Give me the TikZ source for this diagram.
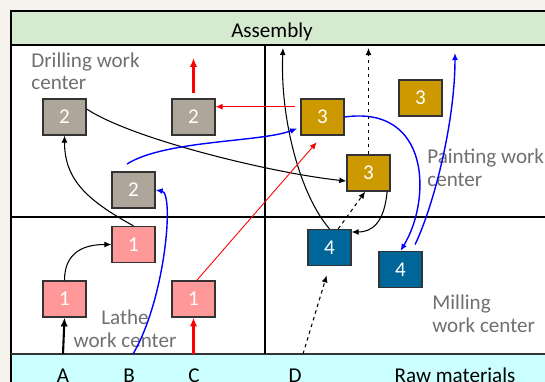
\documentclass[tikz,border=0pt]{standalone}
\usepackage{fontspec}
\setmainfont{Carlito}
\usetikzlibrary{arrows.meta}
\definecolor{bgbeige}{RGB}{246,242,236}
\definecolor{asmgreen}{RGB}{213,234,207}
\definecolor{rawcyan}{RGB}{204,255,255}
\definecolor{drillgray}{RGB}{174,166,155}
\definecolor{lathepink}{RGB}{255,153,153}
\definecolor{paintgold}{RGB}{204,153,0}
\definecolor{millblue}{RGB}{0,102,153}
\definecolor{labelgray}{RGB}{112,112,112}
\begin{document}
\begin{tikzpicture}[x=0.02cm, y=-0.02cm, font=\fontsize{12}{12.8}\selectfont]
  \tikzstyle{block} = [rectangle, draw=black!80, line width=0.7pt, minimum width=0.86cm, minimum height=0.72cm, inner sep=0pt, text=white]
  \tikzstyle{arr} = [-{Latex[length=4pt,width=3.4pt]}, line width=0.6pt]
  \tikzstyle{bigarr} = [-{Latex[length=5pt,width=4.2pt]}, line width=1.2pt]
  \tikzstyle{dasharr} = [arr, dash pattern=on 2pt off 2pt]
  \tikzstyle{flow} = [arr, blue, line width=0.8pt]
  \tikzstyle{note} = [text=labelgray, inner sep=0pt]

  \useasboundingbox (0,0) rectangle (545,382);
  \fill[bgbeige] (0,0) rectangle (545,382);
  \fill[white] (11,11) rectangle (545,382);
  \fill[asmgreen] (11,11) rectangle (545,45);
  \fill[rawcyan] (11,354) rectangle (545,382);

  % frame and work center split
  \draw[line width=1pt] (11,382) -- (11,11) -- (545,11);
  \draw[line width=1pt] (11,45) -- (545,45);
  \draw[line width=0.6pt, black!80] (11,354) -- (545,354);
  \draw[line width=1pt] (265,45) -- (265,354);
  \draw[line width=1pt] (11,217) -- (545,217);

  \node[anchor=base] (asm) at (272,37) {Assembly};
  \node[anchor=base] (A) at (63,382) {A};
  \node[anchor=base] (B) at (129,382) {B};
  \node[anchor=base] (C) at (194,382) {C};
  \node[anchor=base] (D) at (295,382) {D};
  \node[anchor=base] (raw) at (455,382) {Raw materials};

  % base of a two-line note is its last line
  \node[note, anchor=base west, align=left] (drill) at (31,90) {Drilling work\\center};
  \node[note, anchor=base west, align=left] (paint) at (427,186) {Painting work\\center};
  \node[note, anchor=base, align=center] (lathe) at (125,347) {Lathe\\work center};
  \node[note, anchor=base west, align=left] (mill) at (432,332) {Milling\\work center};

  % machines
  \node[block, fill=drillgray] (drillA) at (64.5,117) {2};
  \node[block, fill=drillgray] (drillB) at (193.5,117) {2};
  \node[block, fill=drillgray] (drillC) at (133.5,190) {2};
  \node[block, fill=lathepink] (latheA) at (133.5,244.5) {1};
  \node[block, fill=lathepink] (latheB) at (64.5,299) {1};
  \node[block, fill=lathepink] (latheC) at (193.5,299) {1};
  \node[block, fill=paintgold] (paintA) at (322.5,117) {3};
  \node[block, fill=paintgold] (paintB) at (420.5,98) {3};
  \node[block, fill=paintgold] (paintC) at (368.5,173) {3};
  \node[block, fill=millblue] (millA) at (329.5,247.5) {4};
  \node[block, fill=millblue] (millB) at (400.5,269.5) {4};

  \coordinate (inA) at (63,354);
  \coordinate (inB) at (133,354);
  \coordinate (inC) at (193.5,354);
  \coordinate (inD) at (303,354);
  \coordinate (outA) at (283,48);
  \coordinate (outB) at (455,53);
  \coordinate (outC) at (193.5,58);
  \coordinate (startB) at (127,164);

  % product A
  \draw[bigarr] (inA) -- (latheB.south);
  \draw[arr] (latheB.north) .. controls +(0,-30) and +(-25,0) .. (latheA.west);
  \draw[arr] (latheA.north) .. controls +(-45,-25) and +(0,45) .. (drillA.south);
  \draw[arr] (drillA.20) .. controls +(45,30) and +(-75,-8) .. (paintC.200);
  \draw[arr] (paintC.-45) .. controls +(-3,33) and +(19,0) .. (millA.35);
  \draw[arr] (millA.north) .. controls +(-30,-35) and +(-3,70) .. (outA);

  % product B
  \draw[flow] (inB) .. controls +(32,-54) and +(19,3) .. (drillC.east);
  \draw[flow, shorten >=2pt] (startB) .. controls +(38,-24) and +(-40,15) .. (paintA.205);
  \draw[flow] (paintA.east) .. controls +(86,-12) and +(31,-51) .. (millB.north);
  \draw[flow, shorten <=4pt] (millB.58) .. controls +(23,-49) and +(0,67) .. (outB);

  % product C
  \draw[bigarr, red] (inC) -- (latheC.south);
  \draw[arr, red, line width=0.5pt, shorten >=5pt] (latheC.80) -- (paintA.south);
  \draw[arr, red, line width=0.5pt, shorten <=3pt] (paintA.155) -- (paintA.155 -| drillB.east);
  \draw[bigarr, red, shorten <=3pt] (drillB.north) -- (outC);

  % product D
  \draw[dasharr, shorten >=5.5pt] (inD) -- (millA.south);
  \draw[dasharr] (millA.65) -- (paintC.-100);
  \draw[dasharr] (paintC.north) -- (paintC.north |- outA);
\end{tikzpicture}
\end{document}
